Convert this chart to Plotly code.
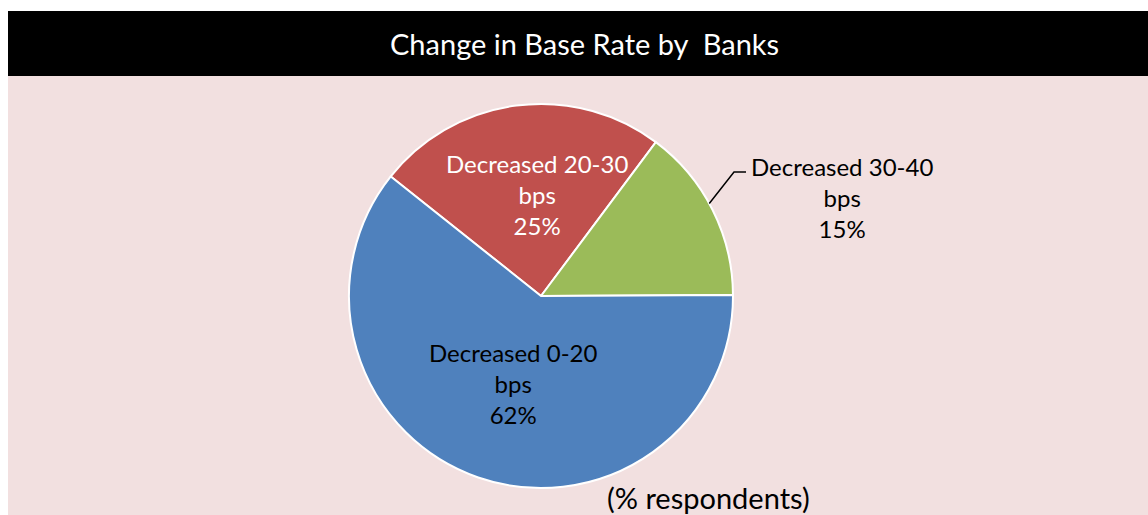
import math
import plotly.graph_objects as go

W, H = 1148, 515

# Survey responses (% of respondents)
categories = ["Decreased 20-30 bps", "Decreased 30-40 bps", "Decreased 0-20 bps"]
shares = [25, 15, 62]
colors = ["#C0504D", "#9BBB59", "#4F81BD"]
label_lines = [["Decreased 20-30", "bps"], ["Decreased 30-40", "bps"], ["Decreased 0-20", "bps"]]

title_text = "Change in Base Rate by  Banks"
note_text = "(% respondents)"

FONT = "Lato, 'Open Sans', sans-serif"
START_ANGLE = -51.5  # clockwise from 12 o'clock

# pie geometry in pixels
cx, cy, R = 541, 296, 192


def px_x(x):
    return x / W


def px_y(y):
    return 1 - y / H


fig = go.Figure()

fig.add_trace(go.Pie(
    labels=categories,
    values=shares,
    sort=False,
    direction="clockwise",
    rotation=START_ANGLE,
    marker=dict(colors=colors, line=dict(color="white", width=2)),
    textinfo="none",
    hoverinfo="label+percent",
    showlegend=False,
    domain=dict(x=[px_x(cx - R), px_x(cx + R)], y=[px_y(cy + R), px_y(cy - R)]),
))

# slice mid-angles, used to place labels
total = sum(shares)
mids = []
a = START_ANGLE
for v in shares:
    span = 360 * v / total
    mids.append(a + span / 2)
    a += span


def polar(angle_deg, r):
    t = math.radians(angle_deg)
    return cx + r * math.sin(t), cy - r * math.cos(t)


annotations = []
label_font_size = 24
text_colors = ["white", "black", "black"]
radial = [0.53, None, 0.48]
angle_shift = [5, 0, -1.5]
for i, (lines, v) in enumerate(zip(label_lines, shares)):
    text = "<br>".join(lines + [f"{v}%"])
    if radial[i] is not None:
        x, y = polar(mids[i] + angle_shift[i], radial[i] * R)
        annotations.append(dict(
            x=px_x(x), y=px_y(y), xref="paper", yref="paper",
            text=text, showarrow=False, align="center",
            font=dict(family=FONT, size=label_font_size, color=text_colors[i]),
            xanchor="center", yanchor="middle",
        ))

# outside label for the green slice with a bent leader line
ex, ey = polar(mids[1] - 2, R)
kx, ky = 734, 172
hx = kx + 12
annotations.append(dict(
    x=px_x(842), y=px_y(197), xref="paper", yref="paper",
    text="<br>".join(label_lines[1] + [f"{shares[1]}%"]), showarrow=False, align="center",
    font=dict(family=FONT, size=label_font_size, color="black"),
    xanchor="center", yanchor="middle",
))

annotations.append(dict(
    x=px_x(584), y=px_y(44), xref="paper", yref="paper",
    text=title_text, showarrow=False,
    font=dict(family=FONT, size=29, color="white"),
    xanchor="center", yanchor="middle",
))
annotations.append(dict(
    x=px_x(708), y=px_y(497), xref="paper", yref="paper",
    text=note_text, showarrow=False,
    font=dict(family=FONT, size=29, color="black"),
    xanchor="center", yanchor="middle",
))

shapes = [
    dict(type="rect", xref="paper", yref="paper", x0=px_x(8), x1=1, y0=px_y(76), y1=px_y(11),
         fillcolor="black", line=dict(width=0), layer="below"),
    dict(type="rect", xref="paper", yref="paper", x0=px_x(8), x1=1, y0=0, y1=px_y(76),
         fillcolor="#F2E0E0", line=dict(width=0), layer="below"),
    dict(type="path", xref="paper", yref="paper",
         path=f"M {px_x(ex)},{px_y(ey)} L {px_x(kx)},{px_y(ky)} L {px_x(hx)},{px_y(ky)}",
         line=dict(color="black", width=1.5)),
]

fig.update_layout(
    width=W, height=H,
    margin=dict(l=0, r=0, t=0, b=0),
    paper_bgcolor="white",
    plot_bgcolor="white",
    annotations=annotations,
    shapes=shapes,
)

fig.write_html("out.html")
